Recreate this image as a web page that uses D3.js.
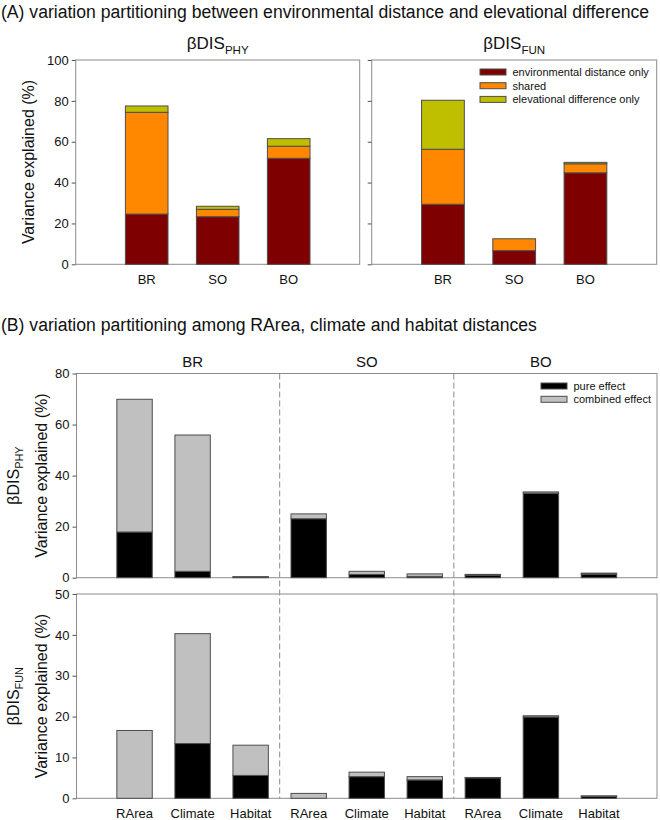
<!DOCTYPE html>
<html>
<head>
<meta charset="utf-8">
<script src="https://cdn.jsdelivr.net/npm/d3@7"></script>
<style>
  html, body { margin: 0; padding: 0; background: #fff; }
  svg { display: block; font-family: "Liberation Sans", Arial, sans-serif; }
</style>
</head>
<body>
<svg id="chart" width="660" height="820"></svg>
<script>
// ---------- DATA ----------
// Panel A
const groupsA = ["BR", "SO", "BO"];
const seriesA = ["environmental distance only", "shared", "elevational difference only"];
const envOnlyPHY  = [24.6, 23.3, 51.9];
const sharedPHY   = [49.8, 3.6, 5.9];
const elevOnlyPHY = [3.1, 1.5, 3.7];
const envOnlyFUN  = [29.4, 6.7, 44.8];
const sharedFUN   = [26.9, 5.8, 4.4];
const elevOnlyFUN = [24.0, 0.0, 0.7];
const ticksA = [0, 20, 40, 60, 80, 100];

// Panel B
const regionsB = ["BR", "SO", "BO"];
const predictorsB = ["RArea", "Climate", "Habitat"];
const seriesB = ["pure effect", "combined effect"];
const purePHY     = [17.9, 2.5, 0.3, 23.1, 1.3, 0.5, 1.0, 33.1, 1.4];
const combinedPHY = [52.0, 53.4, 0.1, 1.9, 1.2, 1.0, 0.3, 0.5, 0.4];
const pureFUN     = [0.0, 13.4, 5.6, 0.0, 5.3, 4.5, 5.0, 19.9, 0.5];
const combinedFUN = [16.6, 26.9, 7.4, 1.2, 1.1, 0.8, 0.1, 0.3, 0.1];
const ticksBPHY = [0, 20, 40, 60, 80];
const ticksBFUN = [0, 10, 20, 30, 40, 50];

// ---------- STYLE ----------
const colA = ["#7f0000", "#ff8800", "#bfbf00"];
const colB = ["#000000", "#c0c0c0"];
const frameCol = "#8c8c8c";
const barStroke = "#4d4d4d";
const textCol = "#111";

const svg = d3.select("#chart");

function frame(x0, x1, y0, y1) {
  svg.append("rect").attr("x", x0).attr("y", y0)
    .attr("width", x1 - x0).attr("height", y1 - y0)
    .attr("fill", "none").attr("stroke", frameCol).attr("stroke-width", 1);
}

function yAxis(scale, x, ticks, labels) {
  const ax = d3.axisLeft(scale).tickValues(ticks).tickSize(4).tickPadding(3)
    .tickFormat(labels ? d3.format("d") : () => "");
  const g = svg.append("g").attr("transform", `translate(${x},0)`).call(ax);
  g.select(".domain").remove();
  g.selectAll(".tick line").attr("stroke", "#555");
  g.selectAll("text").attr("font-size", 13).attr("fill", textCol)
    .attr("font-family", "Liberation Sans, Arial, sans-serif");
  return g;
}

function rotLabel(x, y, main, sub, size) {
  const t = svg.append("text")
    .attr("transform", `translate(${x},${y}) rotate(-90)`)
    .attr("text-anchor", "middle").attr("font-size", size).attr("fill", textCol);
  t.append("tspan").text(main);
  if (sub) t.append("tspan").attr("font-size", size * 0.68).attr("dy", size * 0.28).text(sub);
  return t;
}

function subLabel(x, y, main, sub, size) {
  const t = svg.append("text").attr("x", x).attr("y", y)
    .attr("text-anchor", "middle").attr("font-size", size).attr("fill", textCol);
  t.append("tspan").text(main);
  t.append("tspan").attr("font-size", size * 0.68).attr("dy", size * 0.28).text(sub);
}

// ---------- PANEL A ----------
svg.append("text").attr("x", 1).attr("y", 18).attr("font-size", 17.6).attr("fill", textCol)
  .text("(A) variation partitioning between environmental distance and elevational difference");

const yA = d3.scaleLinear().domain([0, 100]).range([264.3, 60]);
const panelsA = [
  { x0: 75.7, x1: 359.7, data: [envOnlyPHY, sharedPHY, elevOnlyPHY], title: "PHY", labels: true },
  { x0: 371.7, x1: 656.7, data: [envOnlyFUN, sharedFUN, elevOnlyFUN], title: "FUN", labels: false }
];

panelsA.forEach(p => {
  const x = d3.scaleLinear().domain([0, groupsA.length + 1]).range([p.x0, p.x1]);
  const bw = (x(1) - x(0)) * 0.6;
  frame(p.x0, p.x1, yA.range()[1], yA.range()[0]);
  yAxis(yA, p.x0, ticksA, p.labels);
  groupsA.forEach((grp, i) => {
    let cum = 0;
    p.data.forEach((vals, s) => {
      const v = vals[i];
      if (v > 0) {
        svg.append("rect")
          .attr("x", x(i + 1) - bw / 2).attr("width", bw)
          .attr("y", yA(cum + v)).attr("height", yA(cum) - yA(cum + v))
          .attr("fill", colA[s]).attr("stroke", barStroke).attr("stroke-width", 1);
      }
      cum += v;
    });
    svg.append("text").attr("x", x(i + 1)).attr("y", 284)
      .attr("text-anchor", "middle").attr("font-size", 13).attr("fill", textCol).text(grp);
  });
  subLabel((p.x0 + p.x1) / 2, 49, "βDIS", p.title, 17);
});

rotLabel(34, 162, "Variance explained (%)", null, 16);

// legend A
const legA = svg.append("g");
seriesA.forEach((s, i) => {
  const yy = 72 + i * 13.7;
  legA.append("rect").attr("x", 480).attr("y", yy - 3).attr("width", 26).attr("height", 6)
    .attr("fill", colA[i]).attr("stroke", barStroke).attr("stroke-width", 1);
  legA.append("text").attr("x", 512.5).attr("y", yy + 4).attr("font-size", 11).attr("fill", textCol).text(s);
});

// ---------- PANEL B ----------
svg.append("text").attr("x", 1).attr("y", 331).attr("font-size", 17.6).attr("fill", textCol)
  .text("(B) variation partitioning among RArea, climate and habitat distances");

const xB = d3.scaleLinear().domain([0, 10]).range([76.5, 657]);
const bwB = (xB(1) - xB(0)) * 0.61;
const catsB = [];
regionsB.forEach(r => predictorsB.forEach(p => catsB.push({ region: r, pred: p })));

// region headers
regionsB.forEach((r, i) => {
  svg.append("text").attr("x", xB(i * 3 + 2)).attr("y", 367)
    .attr("text-anchor", "middle").attr("font-size", 15).attr("fill", textCol).text(r);
});

const panelsB = [
  { y0: 577.7, y1: 373.5, max: 80, ticks: ticksBPHY, pure: purePHY, comb: combinedPHY, sub: "PHY", xlabels: false },
  { y0: 798.3, y1: 594, max: 50, ticks: ticksBFUN, pure: pureFUN, comb: combinedFUN, sub: "FUN", xlabels: true }
];

panelsB.forEach(p => {
  const y = d3.scaleLinear().domain([0, p.max]).range([p.y0, p.y1]);
  frame(xB(0), xB(10), p.y1, p.y0);
  yAxis(y, xB(0), p.ticks, true);
  catsB.forEach((c, i) => {
    const vals = [p.pure[i], p.comb[i]];
    let cum = 0;
    vals.forEach((v, s) => {
      if (v > 0) {
        svg.append("rect")
          .attr("x", xB(i + 1) - bwB / 2).attr("width", bwB)
          .attr("y", y(cum + v)).attr("height", y(cum) - y(cum + v))
          .attr("fill", colB[s]).attr("stroke", barStroke).attr("stroke-width", 1);
      }
      cum += v;
    });
    if (p.xlabels) {
      svg.append("text").attr("x", xB(i + 1)).attr("y", 818)
        .attr("text-anchor", "middle").attr("font-size", 13).attr("fill", textCol).text(c.pred);
    }
  });
  const cy = (p.y0 + p.y1) / 2;
  rotLabel(47, cy, "Variance explained (%)", null, 16);
  rotLabel(19, cy, "βDIS", p.sub, 16);
});

// dashed separators
[3.5, 6.5].forEach(v => {
  svg.append("line").attr("x1", xB(v)).attr("x2", xB(v)).attr("y1", 373.5).attr("y2", 798.3)
    .attr("stroke", "#8c8c8c").attr("stroke-width", 1).attr("stroke-dasharray", "6,3");
});

// legend B
seriesB.forEach((s, i) => {
  const yy = 386 + i * 13.3;
  svg.append("rect").attr("x", 541).attr("y", yy - 3).attr("width", 26).attr("height", 6)
    .attr("fill", colB[i]).attr("stroke", barStroke).attr("stroke-width", 1);
  svg.append("text").attr("x", 573.5).attr("y", yy + 4).attr("font-size", 11).attr("fill", textCol).text(s);
});
</script>
</body>
</html>
